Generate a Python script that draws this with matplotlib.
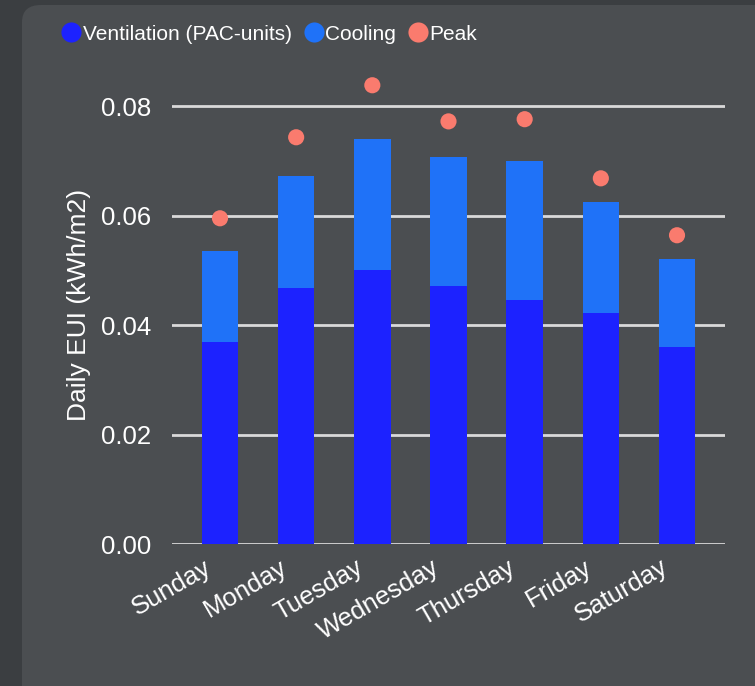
import matplotlib.pyplot as plt
import matplotlib.transforms as mtransforms
import numpy as np
from matplotlib.patches import FancyBboxPatch
from matplotlib.lines import Line2D

plt.rcParams['font.family'] = ['Liberation Sans', 'DejaVu Sans']

days = ["Sunday", "Monday", "Tuesday", "Wednesday", "Thursday", "Friday", "Saturday"]
ventilation = [0.0369, 0.0467, 0.0500, 0.0471, 0.0446, 0.0422, 0.0360]
total = [0.0535, 0.0672, 0.0740, 0.0707, 0.0699, 0.0624, 0.0520]
cooling = [t - v for t, v in zip(total, ventilation)]
peak = [0.0595, 0.0743, 0.0838, 0.0772, 0.0776, 0.0668, 0.0564]
yticks = [0.00, 0.02, 0.04, 0.06, 0.08]

c_vent = "#1c22ff"
c_cool = "#1f72f8"
c_peak = "#fa7b6e"
bg_outer = "#3b3e41"
bg_panel = "#4b4e51"
fg = "white"
grid_c = "#d9d9d9"

fig = plt.figure(figsize=(7.55, 6.86), dpi=100, facecolor=bg_outer)

# rounded card behind the chart
card = FancyBboxPatch((22 / 755, -0.05), 1.0, 1.05 - 5 / 686,
                      boxstyle="round,pad=0,rounding_size=0.025",
                      transform=fig.transFigure, facecolor=bg_panel,
                      edgecolor="none", zorder=-1)
fig.patches.append(card)

ax = fig.add_axes([172 / 755, 1 - 544 / 686, (725 - 172) / 755, (544 - 65) / 686])
ax.set_facecolor("none")

x = np.arange(len(days))
ax.bar(x, ventilation, width=0.48, color=c_vent, zorder=3)
ax.bar(x, cooling, width=0.48, bottom=ventilation, color=c_cool, zorder=3)
ax.scatter(x, peak, s=135, color=c_peak, edgecolor="none", zorder=4)

ax.set_xlim(-0.63, 6.63)
ax.set_ylim(0, 0.0875)
ax.set_yticks(yticks)
ax.set_yticklabels([f"{v:.2f}" for v in yticks])
ax.yaxis.grid(True, color=grid_c, linewidth=2, zorder=1)
ax.set_axisbelow(True)

ax.set_xticks(x)
ax.set_xticklabels(days, rotation=30, ha="right", rotation_mode="anchor")
ax.tick_params(axis="both", length=0, colors=fg, labelsize=18.5)
ax.tick_params(axis="y", pad=15)
ax.tick_params(axis="x", pad=8)
# nudge the slanted day names a little to the left
shift = mtransforms.ScaledTranslation(-17 / 100, 0, fig.dpi_scale_trans)
for lbl in ax.get_xticklabels():
    lbl.set_transform(lbl.get_transform() + shift)
for s in ax.spines.values():
    s.set_visible(False)

ax.set_ylabel("Daily EUI (kWh/m2)", color=fg, fontsize=19, labelpad=7)

handles = [Line2D([], [], marker="o", linestyle="none", markersize=14.5,
                  markerfacecolor=c, markeredgecolor="none")
           for c in (c_vent, c_cool, c_peak)]
fig.legend(handles, ["Ventilation (PAC-units)", "Cooling", "Peak"],
           loc="center left", bbox_to_anchor=(37 / 755, 1 - 34 / 686),
           ncol=3, frameon=False, fontsize=15, labelcolor=fg,
           handletextpad=-0.2, columnspacing=0.3, handlelength=1.5)

fig.savefig("out.png", dpi=100, facecolor=bg_outer)
